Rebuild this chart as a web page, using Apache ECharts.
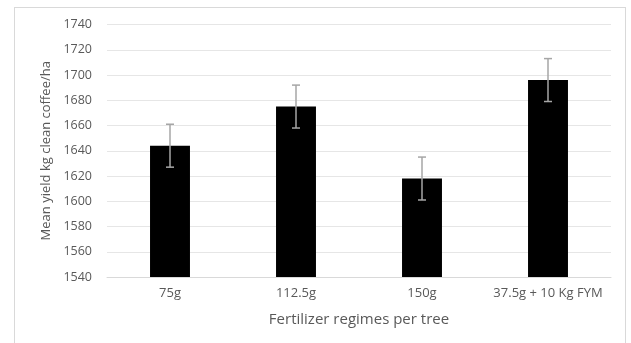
<!DOCTYPE html>
<html>
<head>
<meta charset="utf-8">
<script src="https://cdn.jsdelivr.net/npm/echarts@6/dist/echarts.min.js"></script>
<style>
  html, body { margin: 0; padding: 0; background: #fff; }
  #frame { position: absolute; left: 14px; top: 7px; width: 612px; height: 345px;
           border: 1px solid #d9d9d9; box-sizing: border-box; }
  #chart { position: absolute; left: 0; top: 0; width: 631px; height: 343px; }
</style>
</head>
<body>
<div id="frame"></div>
<div id="chart"></div>
<script>
// Fertilizer regimes and mean yields (kg clean coffee/ha) with error margins
const categories = ['75g', '112.5g', '150g', '37.5g + 10 Kg FYM'];
const meanYield = [1644, 1675, 1618, 1696];
const errorMargin = [17, 17, 17, 17];
const yMin = 1540, yMax = 1740, yStep = 20;

const fontFam = '"Open Sans", sans-serif';
const chart = echarts.init(document.getElementById('chart'), null, { renderer: 'canvas' });

const errData = meanYield.map((v, i) => [i, v - errorMargin[i], v + errorMargin[i]]);

chart.setOption({
  animation: false,
  backgroundColor: 'transparent',
  grid: { left: 107, right: 20, top: 24.5, bottom: 66 },
  xAxis: {
    type: 'category',
    data: categories,
    name: 'Fertilizer regimes per tree',
    nameLocation: 'middle',
    nameGap: 35,
    nameTextStyle: { color: '#595959', fontSize: 15, fontFamily: fontFam },
    axisLine: { lineStyle: { color: '#d9d9d9', width: 1 } },
    axisTick: { show: false },
    axisLabel: { color: '#595959', fontSize: 13, fontFamily: fontFam, margin: 10,
                 interval: 0, hideOverlap: false }
  },
  yAxis: {
    type: 'value',
    min: yMin, max: yMax, interval: yStep,
    name: 'Mean yield kg clean coffee/ha',
    nameLocation: 'middle',
    nameGap: 53,
    nameTextStyle: { color: '#595959', fontSize: 13, fontFamily: fontFam },
    axisLine: { show: false },
    axisTick: { show: false },
    axisLabel: { color: '#595959', fontSize: 12.5, fontFamily: fontFam, margin: 15,
                 formatter: v => String(v) },
    splitLine: { lineStyle: { color: '#e6e6e6', width: 1 } }
  },
  series: [
    {
      type: 'bar',
      data: meanYield,
      barWidth: '31.7%',
      itemStyle: { color: '#000000' }
    },
    {
      type: 'custom',
      data: errData,
      z: 10,
      renderItem: function (params, api) {
        const x = api.value(0);
        const lo = api.coord([x, api.value(1)]);
        const hi = api.coord([x, api.value(2)]);
        const cap = 4;
        const style = { stroke: '#a6a6a6', lineWidth: 1.5 };
        return {
          type: 'group',
          children: [
            { type: 'line', shape: { x1: hi[0], y1: hi[1], x2: lo[0], y2: lo[1] }, style: style },
            { type: 'line', shape: { x1: hi[0] - cap, y1: hi[1], x2: hi[0] + cap, y2: hi[1] }, style: style },
            { type: 'line', shape: { x1: lo[0] - cap, y1: lo[1], x2: lo[0] + cap, y2: lo[1] }, style: style }
          ]
        };
      }
    }
  ]
});
</script>
</body>
</html>
